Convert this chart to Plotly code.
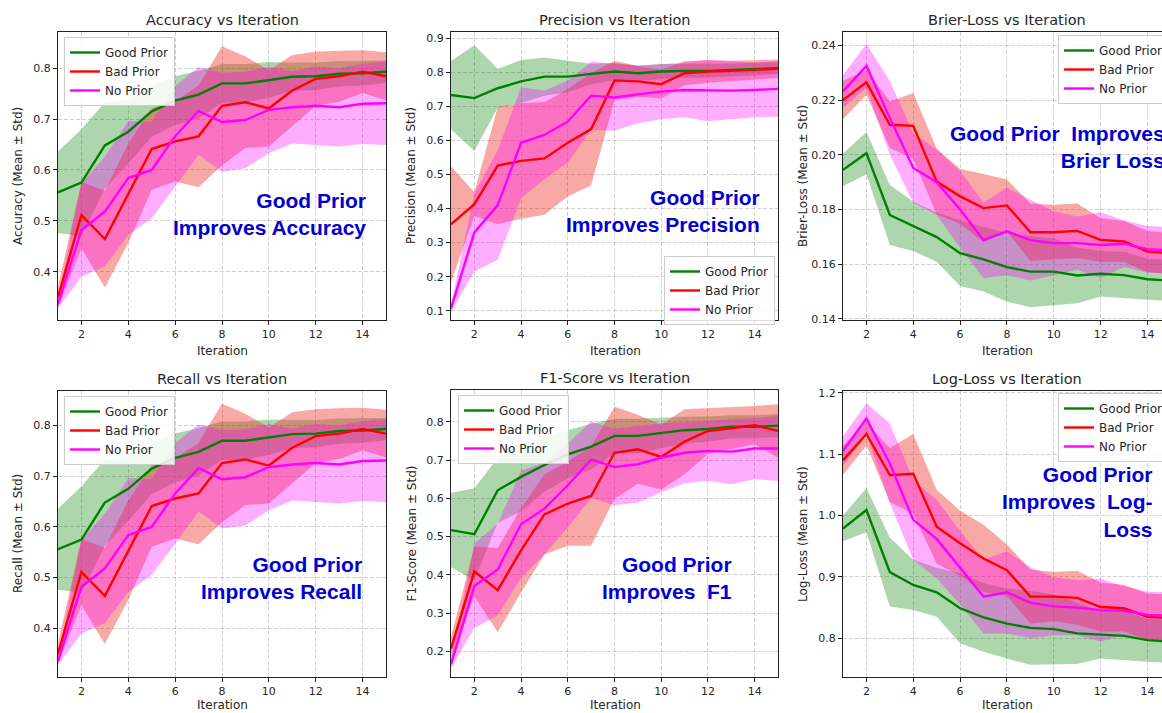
import plotly.graph_objects as go

W, H = 1162, 713

iterations = list(range(1, 16))
series_names = ["Good Prior", "Bad Prior", "No Prior"]

# ---------------- Accuracy ----------------
acc_good_mean = [0.556, 0.575, 0.648, 0.675, 0.715, 0.736, 0.748, 0.770, 0.770, 0.777, 0.783, 0.784, 0.789, 0.790, 0.793]
acc_good_std = [0.080, 0.105, 0.085, 0.063, 0.050, 0.048, 0.047, 0.038, 0.038, 0.035, 0.028, 0.027, 0.025, 0.024, 0.022]
acc_bad_mean = [0.350, 0.511, 0.464, 0.554, 0.641, 0.656, 0.666, 0.726, 0.733, 0.721, 0.756, 0.779, 0.784, 0.793, 0.784]
acc_bad_std = [0.020, 0.065, 0.095, 0.098, 0.080, 0.079, 0.100, 0.117, 0.090, 0.075, 0.070, 0.053, 0.050, 0.042, 0.047]
acc_no_mean = [0.336, 0.482, 0.518, 0.584, 0.600, 0.666, 0.716, 0.694, 0.698, 0.718, 0.723, 0.726, 0.723, 0.730, 0.731]
acc_no_std = [0.008, 0.092, 0.108, 0.112, 0.095, 0.099, 0.086, 0.097, 0.095, 0.085, 0.071, 0.077, 0.077, 0.079, 0.082]

# ---------------- Precision ----------------
prec_good_mean = [0.733, 0.724, 0.753, 0.773, 0.787, 0.787, 0.795, 0.802, 0.797, 0.802, 0.804, 0.804, 0.807, 0.810, 0.812]
prec_good_std = [0.100, 0.155, 0.057, 0.063, 0.056, 0.046, 0.030, 0.025, 0.022, 0.022, 0.020, 0.020, 0.018, 0.018, 0.017]
prec_bad_mean = [0.354, 0.413, 0.526, 0.540, 0.547, 0.593, 0.633, 0.776, 0.773, 0.765, 0.797, 0.802, 0.804, 0.807, 0.810]
prec_bad_std = [0.170, 0.035, 0.172, 0.170, 0.165, 0.158, 0.165, 0.058, 0.045, 0.042, 0.035, 0.033, 0.030, 0.028, 0.027]
prec_no_mean = [0.107, 0.330, 0.410, 0.593, 0.616, 0.655, 0.731, 0.726, 0.735, 0.743, 0.748, 0.746, 0.746, 0.748, 0.751]
prec_no_std = [0.010, 0.115, 0.160, 0.163, 0.130, 0.120, 0.100, 0.098, 0.085, 0.081, 0.080, 0.090, 0.085, 0.080, 0.082]

# ---------------- Brier-Loss ----------------
brier_good_mean = [0.1945, 0.2006, 0.1780, 0.1738, 0.1699, 0.1640, 0.1618, 0.1589, 0.1573, 0.1573, 0.1559, 0.1565, 0.1560, 0.1545, 0.1540]
brier_good_std = [0.0060, 0.0077, 0.0110, 0.0090, 0.0090, 0.0120, 0.0118, 0.0126, 0.0130, 0.0122, 0.0102, 0.0083, 0.0085, 0.0075, 0.0075]
brier_bad_mean = [0.2200, 0.2265, 0.2110, 0.2106, 0.1902, 0.1848, 0.1805, 0.1815, 0.1717, 0.1717, 0.1722, 0.1689, 0.1683, 0.1646, 0.1640]
brier_bad_std = [0.0070, 0.0045, 0.0085, 0.0120, 0.0120, 0.0100, 0.0125, 0.0095, 0.0105, 0.0100, 0.0100, 0.0080, 0.0075, 0.0075, 0.0075]
brier_no_mean = [0.2232, 0.2325, 0.2135, 0.1952, 0.1900, 0.1800, 0.1688, 0.1720, 0.1688, 0.1677, 0.1677, 0.1670, 0.1675, 0.1655, 0.1650]
brier_no_std = [0.0060, 0.0080, 0.0135, 0.0127, 0.0120, 0.0140, 0.0138, 0.0160, 0.0148, 0.0117, 0.0097, 0.0120, 0.0085, 0.0085, 0.0085]

# ---------------- Recall ----------------
rec_good_mean = [0.556, 0.575, 0.648, 0.675, 0.715, 0.736, 0.748, 0.770, 0.770, 0.777, 0.783, 0.784, 0.789, 0.790, 0.793]
rec_good_std = [0.080, 0.105, 0.085, 0.063, 0.050, 0.048, 0.047, 0.038, 0.038, 0.035, 0.028, 0.027, 0.025, 0.024, 0.022]
rec_bad_mean = [0.350, 0.511, 0.464, 0.554, 0.641, 0.656, 0.666, 0.726, 0.733, 0.721, 0.756, 0.779, 0.784, 0.793, 0.784]
rec_bad_std = [0.020, 0.065, 0.095, 0.098, 0.080, 0.079, 0.100, 0.117, 0.090, 0.075, 0.070, 0.053, 0.050, 0.042, 0.047]
rec_no_mean = [0.336, 0.482, 0.518, 0.584, 0.600, 0.666, 0.716, 0.694, 0.698, 0.718, 0.723, 0.726, 0.723, 0.730, 0.731]
rec_no_std = [0.008, 0.092, 0.108, 0.112, 0.095, 0.099, 0.086, 0.097, 0.095, 0.085, 0.071, 0.077, 0.077, 0.079, 0.082]

# ---------------- F1-Score ----------------
f1_good_mean = [0.517, 0.506, 0.621, 0.656, 0.687, 0.715, 0.735, 0.763, 0.763, 0.771, 0.778, 0.781, 0.787, 0.787, 0.790]
f1_good_std = [0.097, 0.120, 0.085, 0.090, 0.070, 0.063, 0.060, 0.045, 0.045, 0.040, 0.035, 0.033, 0.030, 0.030, 0.030]
f1_bad_mean = [0.207, 0.409, 0.360, 0.464, 0.558, 0.586, 0.606, 0.719, 0.728, 0.708, 0.748, 0.776, 0.783, 0.791, 0.776]
f1_bad_std = [0.030, 0.065, 0.110, 0.110, 0.105, 0.110, 0.130, 0.120, 0.090, 0.085, 0.085, 0.060, 0.055, 0.050, 0.070]
f1_no_mean = [0.166, 0.371, 0.414, 0.532, 0.573, 0.634, 0.701, 0.682, 0.689, 0.706, 0.719, 0.724, 0.722, 0.730, 0.730]
f1_no_std = [0.010, 0.110, 0.120, 0.140, 0.120, 0.110, 0.100, 0.100, 0.100, 0.090, 0.080, 0.078, 0.085, 0.080, 0.085]

# ---------------- Log-Loss ----------------
log_good_mean = [0.979, 1.009, 0.908, 0.887, 0.875, 0.849, 0.834, 0.824, 0.817, 0.815, 0.808, 0.806, 0.804, 0.797, 0.795]
log_good_std = [0.021, 0.036, 0.056, 0.041, 0.040, 0.057, 0.056, 0.057, 0.060, 0.057, 0.050, 0.039, 0.040, 0.035, 0.035]
log_bad_mean = [1.090, 1.133, 1.066, 1.068, 0.982, 0.955, 0.930, 0.911, 0.868, 0.868, 0.866, 0.851, 0.849, 0.835, 0.833]
log_bad_std = [0.024, 0.019, 0.044, 0.065, 0.060, 0.053, 0.055, 0.042, 0.044, 0.040, 0.044, 0.040, 0.038, 0.038, 0.038]
log_no_mean = [1.105, 1.158, 1.085, 0.993, 0.962, 0.915, 0.868, 0.875, 0.858, 0.852, 0.850, 0.846, 0.845, 0.838, 0.837]
log_no_std = [0.024, 0.025, 0.065, 0.065, 0.064, 0.060, 0.060, 0.067, 0.058, 0.047, 0.045, 0.051, 0.040, 0.038, 0.038]

x_ticks = [2, 4, 6, 8, 10, 12, 14]

line_colors = ["#008000", "#ff0000", "#ff00ff"]
fill_colors = ["rgba(0,128,0,0.32)", "rgba(240,40,30,0.40)", "rgba(255,0,255,0.32)"]

FONT = "DejaVu Sans"
TEXT = "#262626"
BLUE = "#0000d0"
NB = "\u00a0"

panels = [
    dict(title="Accuracy vs Iteration", ylabel="Accuracy (Mean ± Std)",
         data=[(acc_good_mean, acc_good_std), (acc_bad_mean, acc_bad_std), (acc_no_mean, acc_no_std)],
         box=(58, 386, 32, 320), xr=[1, 15], yr=[0.305, 0.871],
         yt=[0.4, 0.5, 0.6, 0.7, 0.8], fmt=".1f", mirror_y=True,
         leg=(64, 37), note="Good Prior<br>Improves Accuracy", note_xy=(368, 214)),
    dict(title="Precision vs Iteration", ylabel="Precision (Mean ± Std)",
         data=[(prec_good_mean, prec_good_std), (prec_bad_mean, prec_bad_std), (prec_no_mean, prec_no_std)],
         box=(451, 778, 32, 320), xr=[1, 15], yr=[0.073, 0.918],
         yt=[0.1, 0.2, 0.3, 0.4, 0.5, 0.6, 0.7, 0.8, 0.9], fmt=".1f", mirror_y=True,
         leg=(664, 256), note="Good Prior<br>Improves Precision", note_xy=(762, 211)),
    dict(title="Brier-Loss vs Iteration", ylabel="Brier-Loss (Mean ± Std)",
         data=[(brier_good_mean, brier_good_std), (brier_bad_mean, brier_bad_std), (brier_no_mean, brier_no_std)],
         box=(843, 1162, 32, 320), xr=[1, 14.62], yr=[0.1396, 0.2449],
         yt=[0.14, 0.16, 0.18, 0.20, 0.22, 0.24], fmt=".2f", mirror_y=False,
         leg=(1058, 35), note="Good Prior" + NB + NB + "Improves<br>Brier Loss", note_xy=(1167, 147)),
    dict(title="Recall vs Iteration", ylabel="Recall (Mean ± Std)",
         data=[(rec_good_mean, rec_good_std), (rec_bad_mean, rec_bad_std), (rec_no_mean, rec_no_std)],
         box=(58, 386, 391, 677), xr=[1, 15], yr=[0.304, 0.868],
         yt=[0.4, 0.5, 0.6, 0.7, 0.8], fmt=".1f", mirror_y=True,
         leg=(64, 396), note="Good Prior<br>Improves Recall", note_xy=(364, 578)),
    dict(title="F1-Score vs Iteration", ylabel="F1-Score (Mean ± Std)",
         data=[(f1_good_mean, f1_good_std), (f1_bad_mean, f1_bad_std), (f1_no_mean, f1_no_std)],
         box=(451, 778, 390, 677), xr=[1, 15], yr=[0.133, 0.883],
         yt=[0.2, 0.3, 0.4, 0.5, 0.6, 0.7, 0.8], fmt=".1f", mirror_y=True,
         leg=(458, 395), note="Good Prior<br>Improves" + NB + NB + "F1", note_xy=(734, 578)),
    dict(title="Log-Loss vs Iteration", ylabel="Log-Loss (Mean ± Std)",
         data=[(log_good_mean, log_good_std), (log_bad_mean, log_bad_std), (log_no_mean, log_no_std)],
         box=(843, 1162, 391, 677), xr=[1, 14.62], yr=[0.737, 1.203],
         yt=[0.8, 0.9, 1.0, 1.1, 1.2], fmt=".1f", mirror_y=False,
         leg=(1058, 393), note="Good Prior<br>Improves" + NB + NB + "Log-<br>Loss", note_xy=(1155, 502)),
]

fig = go.Figure()
layout = dict(
    width=W, height=H,
    margin=dict(l=0, r=0, t=0, b=0, autoexpand=False),
    paper_bgcolor="white", plot_bgcolor="white",
    showlegend=True,
    font=dict(family=FONT, color=TEXT),
    annotations=[],
)

FULL_W = 328  # width of one full (uncropped) panel, px

for i, p in enumerate(panels):
    k = "" if i == 0 else str(i + 1)
    xa, ya = "x" + k, "y" + k
    leg_id = "legend" + k
    l, r, t, b = p["box"]
    # bands first
    for j, (mean, std) in enumerate(p["data"]):
        upper = [m + s for m, s in zip(mean, std)]
        lower = [m - s for m, s in zip(mean, std)]
        fig.add_trace(go.Scatter(
            x=iterations + iterations[::-1], y=upper + lower[::-1],
            mode="lines", fill="toself", fillcolor=fill_colors[j],
            line=dict(width=0, color=fill_colors[j]),
            xaxis=xa, yaxis=ya, showlegend=False, hoverinfo="skip"))
    # mean lines on top
    for j, (mean, std) in enumerate(p["data"]):
        fig.add_trace(go.Scatter(
            x=iterations, y=mean, mode="lines", name=series_names[j],
            line=dict(color=line_colors[j], width=2.4),
            xaxis=xa, yaxis=ya, legend=leg_id, showlegend=True, hoverinfo="skip"))

    layout["xaxis" + k] = dict(
        domain=[l / W, min(r / W, 1.0)], anchor=ya, range=p["xr"],
        tickvals=x_ticks, ticks="outside", ticklen=4, tickwidth=1, tickcolor="#222",
        showline=True, linecolor="#222", linewidth=1, mirror=True,
        showgrid=True, gridcolor="rgba(170,170,170,0.55)", griddash="4px,2px", gridwidth=1,
        zeroline=False, tickfont=dict(family=FONT, size=11, color=TEXT),
    )
    layout["yaxis" + k] = dict(
        domain=[1 - b / H, 1 - t / H], anchor=xa, range=p["yr"],
        tickvals=p["yt"], tickformat=p["fmt"], ticks="outside", ticklen=4, tickwidth=1, tickcolor="#222",
        showline=True, linecolor="#222", linewidth=1, mirror=p["mirror_y"],
        showgrid=True, gridcolor="rgba(170,170,170,0.55)", griddash="4px,2px", gridwidth=1,
        zeroline=False, tickfont=dict(family=FONT, size=11, color=TEXT),
    )
    lx, ly = p["leg"]
    layout[leg_id] = dict(
        x=lx / W, y=1 - ly / H, xanchor="left", yanchor="top", xref="paper", yref="paper",
        bgcolor="rgba(255,255,255,0.85)", bordercolor="#cccccc", borderwidth=1,
        font=dict(family=FONT, size=12, color=TEXT), itemwidth=30, tracegroupgap=0,
    )
    cx = l + FULL_W / 2
    # subplot title centred on the full (uncropped) panel
    layout["annotations"].append(dict(
        text=p["title"], x=cx / W, y=1 - (t - 12) / H, xref="paper", yref="paper",
        xanchor="center", yanchor="middle", showarrow=False,
        font=dict(family=FONT, size=14.5, color=TEXT)))
    # x axis title
    layout["annotations"].append(dict(
        text="Iteration", x=cx / W, y=1 - min(b + 31, 705) / H, xref="paper", yref="paper",
        xanchor="center", yanchor="middle", showarrow=False,
        font=dict(family=FONT, size=12, color=TEXT)))
    # y axis title
    layout["annotations"].append(dict(
        text=p["ylabel"], x=(l - 40) / W, y=1 - ((t + b) / 2) / H, xref="paper", yref="paper",
        xanchor="center", yanchor="middle", textangle=-90, showarrow=False,
        font=dict(family=FONT, size=12, color=TEXT)))
    # highlighted note
    nx, ny = p["note_xy"]
    layout["annotations"].append(dict(
        text=p["note"], x=nx / W, y=1 - ny / H, xref="paper", yref="paper",
        xanchor="right", yanchor="middle", align="right", showarrow=False,
        font=dict(family="Liberation Sans", size=21, color=BLUE, weight="bold")))

fig.update_layout(**layout)
fig.write_html("out.html")
